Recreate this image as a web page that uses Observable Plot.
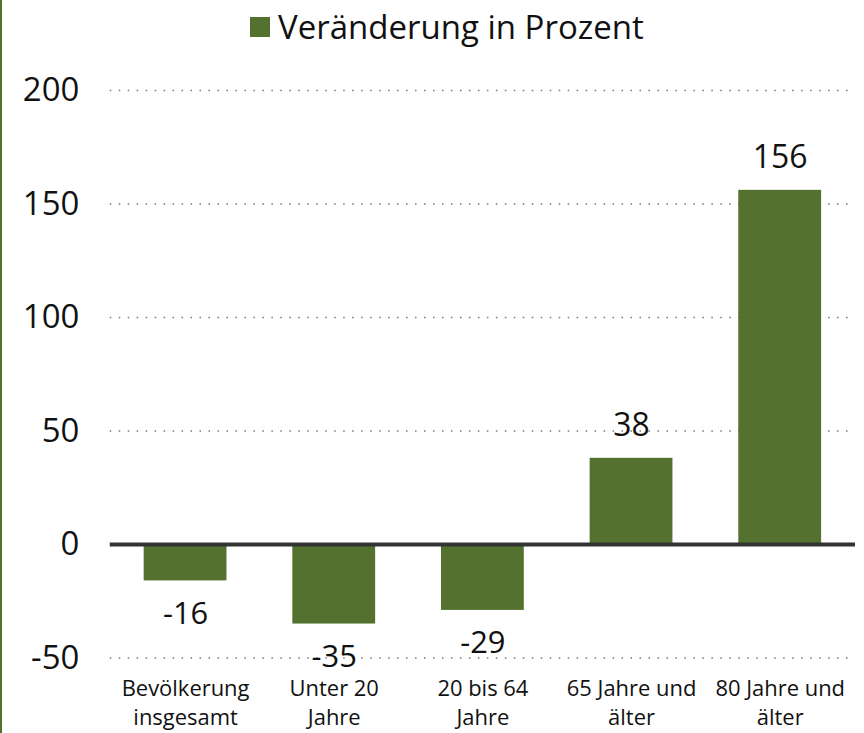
<!DOCTYPE html>
<html>
<head>
<meta charset="utf-8">
<script src="https://cdn.jsdelivr.net/npm/d3@7"></script>
<script src="https://cdn.jsdelivr.net/npm/@observablehq/plot@0.6"></script>
<style>
  html, body { margin: 0; padding: 0; background: #fff; }
  #wrap { width: 862px; height: 733px; border-left: 2px solid #547130; position: relative; overflow: hidden; font-family: "Open Sans", sans-serif; }
  #legend { height: 58px; display: flex; align-items: center; justify-content: flex-start; padding-left: 248px; padding-bottom: 6px; box-sizing: border-box; font-size: 33px; color: #111; }
  #legend .sw { width: 20px; height: 20px; background: #547130; margin-right: 8px; margin-top: 2px; }
  svg { display: block; }
</style>
</head>
<body>
<div id="wrap">
  <div id="legend"><span class="sw"></span><span>Veränderung in Prozent</span></div>
  <div id="chart"></div>
</div>
<script>
const categories = ["Bevölkerung\ninsgesamt", "Unter 20\nJahre", "20 bis 64\nJahre", "65 Jahre und\nälter", "80 Jahre und\nälter"];
const values = [-16, -35, -29, 38, 156];
const yTicks = [-50, 0, 50, 100, 150, 200];
const gridTicks = [-50, 50, 100, 150, 200];

const data = categories.map((c, i) => ({cat: c, v: values[i]}));
const green = "#547130";

const chart = Plot.plot({
  width: 864,
  height: 675,
  marginLeft: 108,
  marginRight: 9,
  marginTop: 32,
  marginBottom: 74,
  style: {fontFamily: "'Open Sans', sans-serif", color: "#111", background: "#fff"},
  x: {domain: categories, paddingInner: 0.44, paddingOuter: 0.22},
  y: {domain: [-50, 200]},
  marks: [
    Plot.ruleY(gridTicks, {stroke: "#777", strokeWidth: 1.5, strokeDasharray: "1.5,7.5"}),
    Plot.barY(data, {x: "cat", y: "v", fill: green}),
    Plot.ruleY([0], {stroke: "#333", strokeWidth: 4}),
    Plot.text(data.filter(d => d.v >= 0), {x: "cat", y: "v", text: d => String(d.v), dy: -33, fontSize: 32, fill: "#111"}),
    Plot.text(data.filter(d => d.v < 0), {x: "cat", y: "v", text: d => String(d.v), dy: 33, fontSize: 31, fill: "#111"}),
    Plot.axisY({ticks: yTicks, tickFormat: d => String(d), tickSize: 0, tickPadding: 31, fontSize: 33, label: null}),
    Plot.axisX({tickSize: 0, tickPadding: 18, fontSize: 22, lineHeight: 1.3, label: null})
  ]
});
document.getElementById("chart").appendChild(chart);
</script>
</body>
</html>
